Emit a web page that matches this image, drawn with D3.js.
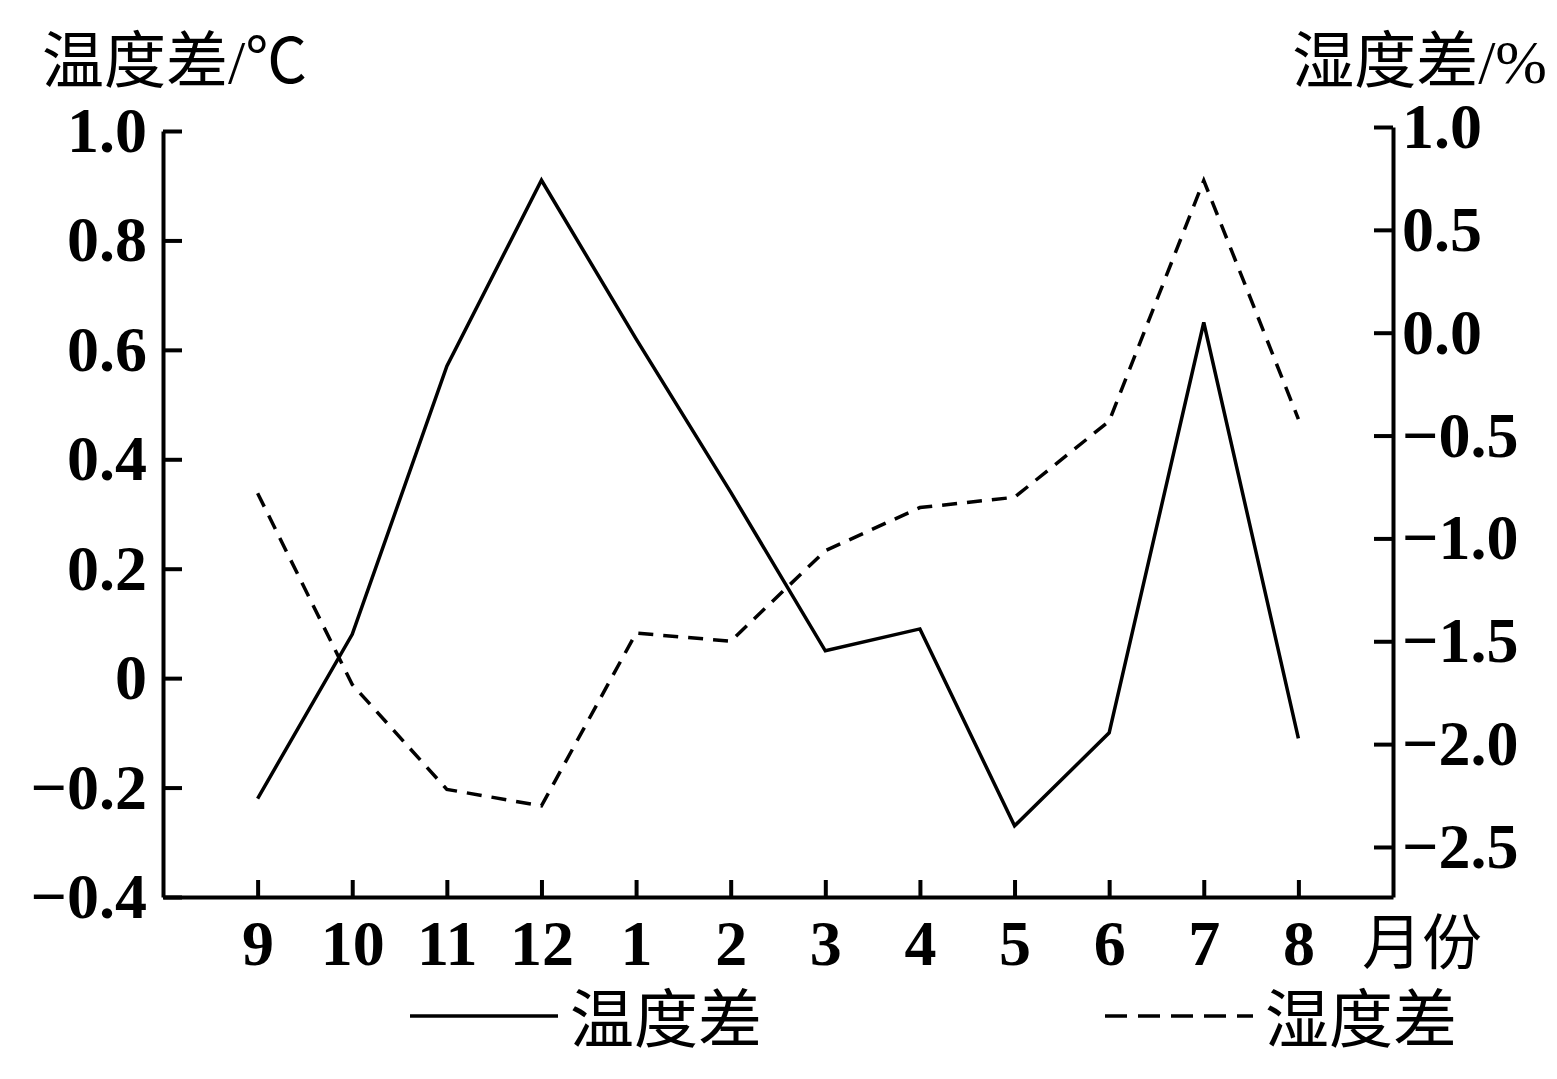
<!DOCTYPE html>
<html>
<head>
<meta charset="utf-8">
<script src="https://cdn.jsdelivr.net/npm/d3@7"></script>
<style>
  body { margin: 0; background: #fff; }
  svg { display: block; }
</style>
</head>
<body>
<div id="chart"></div>
<script>
// data
var months = ['9', '10', '11', '12', '1', '2', '3', '4', '5', '6', '7', '8'];
var tempDiff = [-0.22, 0.08, 0.57, 0.91, 0.62, 0.34, 0.05, 0.09, -0.27, -0.10, 0.65, -0.11];
var humDiff = [-0.78, -1.71, -2.22, -2.30, -1.46, -1.50, -1.06, -0.85, -0.80, -0.43, 0.74, -0.42];
var leftTicks = [1.0, 0.8, 0.6, 0.4, 0.2, 0, -0.2, -0.4];
var rightTicks = [1.0, 0.5, 0.0, -0.5, -1.0, -1.5, -2.0, -2.5];

var w = 1557, h = 1079;
var left = 163, right = 1393, bottom = 897;
var numFont = 'Liberation Serif, Times New Roman, serif';
var cjkFont = 'Liberation Serif, Noto Sans CJK SC, serif';

var svg = d3.select('#chart')
  .append('svg')
  .attr('width', w)
  .attr('height', h)
  .style('background', '#fff');

var xScale = d3.scalePoint()
  .domain(months)
  .range([left, right])
  .padding(1);

var yLeft = d3.scaleLinear()
  .domain([-0.4, 1.0])
  .range([bottom, 131]);

// right axis: 1.0 at 127, -2.5 at 847
var yRight = d3.scaleLinear()
  .domain([-2.5 - 50 / 205.6, 1.0])
  .range([bottom, 127]);

function minus(v, digits) {
  var s = Math.abs(v).toFixed(digits);
  return v < 0 ? '\u2212' + s : s;
}

var xAxis = d3.axisBottom(xScale)
  .tickSizeInner(-17)
  .tickSizeOuter(0)
  .tickPadding(23);

var leftAxis = d3.axisLeft(yLeft)
  .tickValues(leftTicks)
  .tickSizeInner(-19)
  .tickSizeOuter(0)
  .tickPadding(16)
  .tickFormat(function(d) {
    return d === 0 ? '0' : minus(d, 1);
  });

var rightAxis = d3.axisRight(yRight)
  .tickValues(rightTicks)
  .tickSizeInner(-19)
  .tickSizeOuter(0)
  .tickPadding(9)
  .tickFormat(function(d) {
    return minus(d, 1);
  });

function styleAxis(g) {
  g.select('.domain').attr('stroke', '#000').attr('stroke-width', 4);
  g.selectAll('.tick line').attr('stroke', '#000').attr('stroke-width', 4);
  g.selectAll('.tick text')
    .attr('fill', '#000')
    .style('font-family', numFont)
    .style('font-weight', 'bold')
    .style('font-size', '64px');
}

svg.append('g')
  .attr('class', 'axis')
  .attr('transform', 'translate(0,' + bottom + ')')
  .call(xAxis)
  .call(styleAxis);

svg.append('g')
  .attr('class', 'axis')
  .attr('transform', 'translate(' + left + ',0)')
  .call(leftAxis)
  .call(styleAxis);

svg.append('g')
  .attr('class', 'axis')
  .attr('transform', 'translate(' + right + ',0)')
  .call(rightAxis)
  .call(styleAxis);

// lines
var tempLine = d3.line()
  .x(function(d, i) { return xScale(months[i]); })
  .y(function(d) { return yLeft(d); });

var humLine = d3.line()
  .x(function(d, i) { return xScale(months[i]); })
  .y(function(d) { return yRight(d); });

svg.append('path')
  .datum(tempDiff)
  .attr('d', tempLine)
  .attr('fill', 'none')
  .attr('stroke', '#000')
  .attr('stroke-width', 3.5);

svg.append('path')
  .datum(humDiff)
  .attr('d', humLine)
  .attr('fill', 'none')
  .attr('stroke', '#000')
  .attr('stroke-width', 3.5)
  .attr('stroke-dasharray', '15,10');

// axis titles
svg.append('text')
  .attr('x', 42)
  .attr('y', 83)
  .style('font-family', cjkFont)
  .style('font-size', '62px')
  .text('温度差/℃');

svg.append('text')
  .attr('x', 1547)
  .attr('y', 83)
  .attr('text-anchor', 'end')
  .style('font-family', cjkFont)
  .style('font-size', '62px')
  .text('湿度差/%');

svg.append('text')
  .attr('x', 1362)
  .attr('y', 964)
  .style('font-family', cjkFont)
  .style('font-size', '60px')
  .text('月份');

// legend
var legend = [
  { name: '温度差', x: 410, dash: null },
  { name: '湿度差', x: 1105, dash: '22,11' }
];

var lg = svg.selectAll('.legend')
  .data(legend)
  .enter()
  .append('g')
  .attr('class', 'legend')
  .attr('transform', function(d) { return 'translate(' + d.x + ',1016)'; });

lg.append('line')
  .attr('x1', 0)
  .attr('x2', 148)
  .attr('stroke', '#000')
  .attr('stroke-width', 3.5)
  .attr('stroke-dasharray', function(d) { return d.dash; });

lg.append('text')
  .attr('x', 160)
  .attr('y', 26)
  .style('font-family', cjkFont)
  .style('font-size', '64px')
  .text(function(d) { return d.name; });
</script>
</body>
</html>
